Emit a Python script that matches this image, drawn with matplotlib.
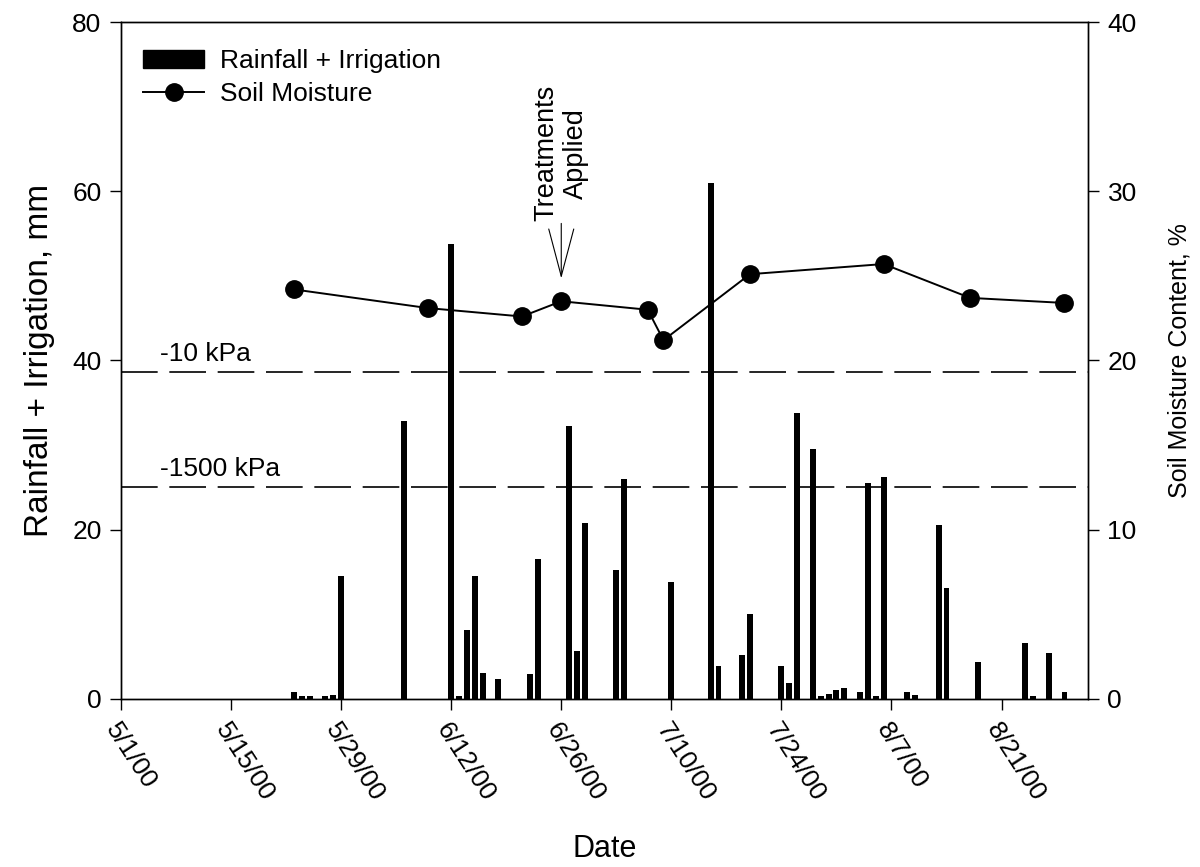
import matplotlib
matplotlib.use("Agg")
import matplotlib.pyplot as plt
import matplotlib.dates as mdates
from matplotlib.lines import Line2D
from matplotlib.patches import Patch
import numpy as np

# daily rainfall + irrigation (mm)
rain_dates = ['2000-05-23', '2000-05-24', '2000-05-25', '2000-05-27', '2000-05-28', '2000-05-29',
              '2000-06-06', '2000-06-12', '2000-06-13', '2000-06-14', '2000-06-15', '2000-06-16',
              '2000-06-18', '2000-06-22', '2000-06-23', '2000-06-27', '2000-06-28', '2000-06-29',
              '2000-07-03', '2000-07-04', '2000-07-10', '2000-07-15', '2000-07-16', '2000-07-19',
              '2000-07-20', '2000-07-24', '2000-07-25', '2000-07-26', '2000-07-28', '2000-07-29',
              '2000-07-30', '2000-07-31', '2000-08-01', '2000-08-03', '2000-08-04', '2000-08-05',
              '2000-08-06', '2000-08-09', '2000-08-10', '2000-08-13', '2000-08-14', '2000-08-18',
              '2000-08-24', '2000-08-25', '2000-08-27', '2000-08-29']
rain = [0.8, 0.3, 0.3, 0.3, 0.5, 14.5,
        32.8, 53.8, 0.3, 8.2, 14.5, 3.1,
        2.4, 2.9, 16.5, 32.3, 5.7, 20.8,
        15.3, 26.0, 13.8, 61.0, 3.9, 5.2,
        10.0, 3.9, 1.9, 33.8, 29.5, 0.3,
        0.6, 1.1, 1.3, 0.8, 25.5, 0.3,
        26.2, 0.8, 0.5, 20.6, 13.1, 4.4,
        6.6, 0.3, 5.4, 0.8]

# soil moisture content (%)
sm_dates = ['2000-05-23', '2000-06-09', '2000-06-21', '2000-06-26', '2000-07-07',
            '2000-07-09', '2000-07-20', '2000-08-06', '2000-08-17', '2000-08-29']
sm = [24.2, 23.1, 22.6, 23.5, 23.0, 21.2, 25.1, 25.7, 23.7, 23.4]

# reference lines (left axis units, mm)
kpa_levels = [38.6, 25.1]
kpa_labels = ['-10 kPa', '-1500 kPa']

tick_dates = ['2000-05-01', '2000-05-15', '2000-05-29', '2000-06-12', '2000-06-26',
              '2000-07-10', '2000-07-24', '2000-08-07', '2000-08-21']

rd = np.array(rain_dates, dtype='datetime64[D]')
sd = np.array(sm_dates, dtype='datetime64[D]')
td = np.array(tick_dates, dtype='datetime64[D]')

plt.rcParams['font.family'] = ['Liberation Sans', 'DejaVu Sans']

fig = plt.figure(figsize=(12, 8.67), dpi=100)
ax = fig.add_axes([0.1008, 0.1938, 0.8059, 0.7808])
ax2 = ax.twinx()

ax.bar(rd, rain, width=0.75, color='black', zorder=2)
ax2.plot(sd, sm, color='black', lw=1.4, marker='o', markersize=12.5, zorder=3)

for lev in kpa_levels:
    ax.axhline(lev, color='black', lw=1.2, dashes=(22, 7), zorder=1)
ax.text(np.datetime64('2000-05-06'), 39.9, kpa_labels[0], fontsize=19, va='baseline', ha='left')
ax.text(np.datetime64('2000-05-06'), 26.3, kpa_labels[1], fontsize=19, va='baseline', ha='left')

# treatments arrow
ax.annotate('', xy=(np.datetime64('2000-06-26'), 49.7), xytext=(np.datetime64('2000-06-26'), 56.2),
            arrowprops=dict(arrowstyle='->,head_length=3.4,head_width=0.9', mutation_scale=10,
                            lw=0.8, color='black', shrinkA=0, shrinkB=0))
ax.text(np.datetime64('2000-06-26'), 64.5, 'Treatments\nApplied', rotation=90, fontsize=19.5,
        ha='center', va='center', multialignment='center')

ax.set_xlim(np.datetime64('2000-05-01'), np.datetime64('2000-09-01'))
ax.set_ylim(0, 80)
ax2.set_ylim(0, 40)
ax.set_yticks([0, 20, 40, 60, 80])
ax2.set_yticks([0, 10, 20, 30, 40])
ax.set_xticks(td)
ax.xaxis.set_major_formatter(plt.FuncFormatter(
    lambda v, p: (lambda d: f"{d.month}/{d.day}/{d.strftime('%y')}")(mdates.num2date(v))))
plt.setp(ax.get_xticklabels(), rotation=-57, ha='left', va='top', rotation_mode='anchor')

for a in (ax, ax2):
    a.tick_params(direction='out', length=8, width=1, labelsize=19, pad=6)
    for s in a.spines.values():
        s.set_linewidth(1)

ax.set_ylabel('Rainfall + Irrigation, mm', fontsize=24, labelpad=12)
ax2.set_ylabel('Soil Moisture Content, %', fontsize=18, labelpad=22)
ax.set_xlabel('Date', fontsize=22)
ax.xaxis.set_label_coords(0.5, -0.2)

handles = [Patch(facecolor='black', edgecolor='black'),
           Line2D([], [], color='black', lw=1.4, marker='o', markersize=12.5)]
ax.legend(handles, ['Rainfall + Irrigation', 'Soil Moisture'], loc='upper left',
          bbox_to_anchor=(0.023, 0.96), frameon=False, fontsize=19, handlelength=2.3,
          handletextpad=0.6, labelspacing=0.35, borderaxespad=0, borderpad=0)

fig.savefig('out.png', dpi=100)
